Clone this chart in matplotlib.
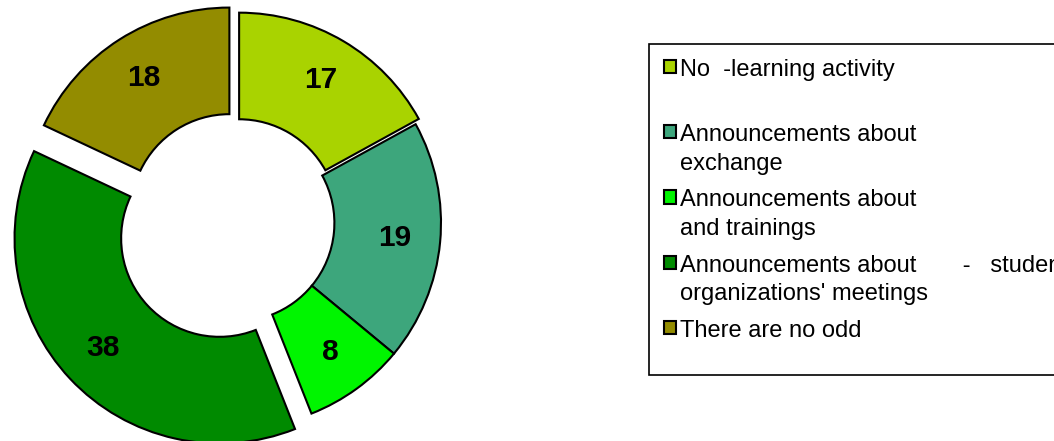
import matplotlib.pyplot as plt
import matplotlib.patches as mpatches
from matplotlib.legend_handler import HandlerPatch

plt.rcParams['font.family'] = ['Liberation Sans', 'DejaVu Sans']

values = [17, 19, 8, 38, 18]
categories = [
    "No  -learning activity\n ",
    "Announcements about\nexchange",
    "Announcements about\nand trainings",
    "Announcements about       -   student\norganizations' meetings",
    "There are no odd\n ",
]
colors = ['#A9D300', '#3DA67C', '#00F500', '#008A00', '#938C00']
explode = [0.03, 0, 0, 0.11, 0.06]


def legend_square(legend, orig_handle, xdescent, ydescent, width, height, fontsize):
    # marker sits level with the first line of a two-line label
    lift = 0.54 if orig_handle is wedges[-1] else 0.75
    return mpatches.Rectangle((-xdescent, -ydescent + lift * fontsize), width, height)


fig = plt.figure(figsize=(10.54, 4.41), dpi=100)
ax = fig.add_axes([0.0002, -0.0402, 0.4474, 1.0692])
wedges, _, autotexts = ax.pie(
    values, colors=colors, explode=explode, startangle=90, counterclock=False,
    autopct=lambda p: f'{p * sum(values) / 100:.0f}', pctdistance=0.78,
    wedgeprops=dict(width=0.52, edgecolor='black', linewidth=1.5),
    textprops=dict(fontsize=21.5, fontweight='bold', color='black'))
ax.set_xlim(-1.15, 1.15)
ax.set_ylim(-1.15, 1.15)

leg = fig.legend(wedges, categories, loc='upper left', bbox_to_anchor=(0.616, 0.90),
                 borderaxespad=0, fontsize=17, fancybox=False, framealpha=1,
                 edgecolor='black', handlelength=0.5, handleheight=0.5,
                 handletextpad=0.2, labelspacing=0.62, borderpad=0.62,
                 handler_map={mpatches.Wedge: HandlerPatch(patch_func=legend_square)})
leg.get_frame().set_linewidth(1.2)
for t in leg.get_texts():
    t.set_linespacing(1.39)
leg.get_texts()[-1].set_linespacing(0.8)

fig.savefig('out.png', dpi=100)
